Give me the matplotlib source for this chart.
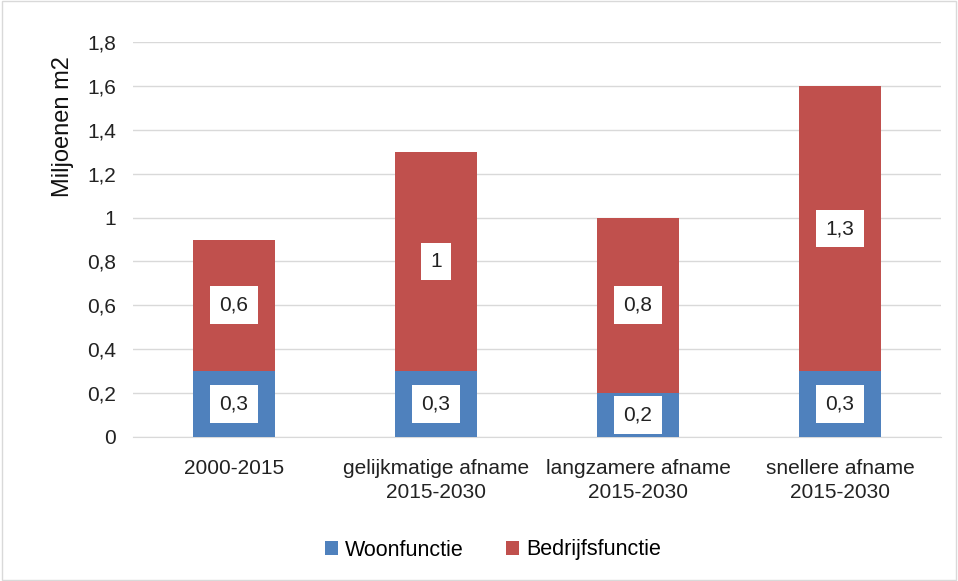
import matplotlib.pyplot as plt
import numpy as np

# data
categories = ['2000-2015', 'gelijkmatige afname\n2015-2030',
              'langzamere afname\n2015-2030', 'snellere afname\n2015-2030']
woon = [0.3, 0.3, 0.2, 0.3]
bedrijf = [0.6, 1.0, 0.8, 1.3]
yticks = [0, 0.2, 0.4, 0.6, 0.8, 1.0, 1.2, 1.4, 1.6, 1.8]

blue = '#4F81BD'
red = '#C0504D'

plt.rcParams['font.family'] = ['Liberation Sans', 'DejaVu Sans']

fig = plt.figure(figsize=(9.58, 5.81), dpi=100)
ax = fig.add_axes([133 / 958, 1 - 437 / 581, 808 / 958, 395 / 581])

x = np.arange(len(categories))
w = 0.41
ax.bar(x, woon, w, color=blue, label='Woonfunctie', zorder=3)
ax.bar(x, bedrijf, w, bottom=woon, color=red, label='Bedrijfsfunctie', zorder=3)

def fmt(v):
    s = ('%g' % v).replace('.', ',')
    return s

box = dict(boxstyle='square,pad=0.45', fc='white', ec='none')
for i in range(len(categories)):
    ax.text(x[i], woon[i] / 2, fmt(woon[i]), ha='center', va='center',
            fontsize=15, bbox=box, zorder=4, color='#222222')
    ax.text(x[i], woon[i] + bedrijf[i] / 2, fmt(bedrijf[i]), ha='center',
            va='center', fontsize=15, bbox=box, zorder=4, color='#222222')

ax.set_xlim(-0.5, len(categories) - 0.5)
ax.set_ylim(0, 1.8)
ax.set_yticks(yticks)
ax.set_yticklabels([fmt(v) for v in yticks], fontsize=15, color='#222222')
ax.set_xticks(x)
ax.set_xticklabels(categories, fontsize=15, color='#222222', linespacing=1.3)
ax.tick_params(axis='y', length=0, pad=12)
ax.tick_params(axis='x', length=0, pad=16)
ax.yaxis.grid(True, color='#D9D9D9', linewidth=1, zorder=0)
for s in ['top', 'right', 'left']:
    ax.spines[s].set_visible(False)
ax.spines['bottom'].set_color('#D9D9D9')
ax.set_ylabel('Miljoenen m2', fontsize=17, color='#111111')
ax.yaxis.set_label_coords(-0.073, 0.787)

fig.legend(loc='center', bbox_to_anchor=(493 / 958, 1 - 550 / 581), ncol=2,
           frameon=False, fontsize=15.5, handlelength=0.6, handleheight=0.6,
           columnspacing=2.0, handletextpad=0.3)

fig.patches.append(plt.Rectangle((0.002, 0.002), 0.996, 0.996, transform=fig.transFigure,
                                 fill=False, ec='#D9D9D9', lw=1))

plt.savefig('out.png', dpi=100)
